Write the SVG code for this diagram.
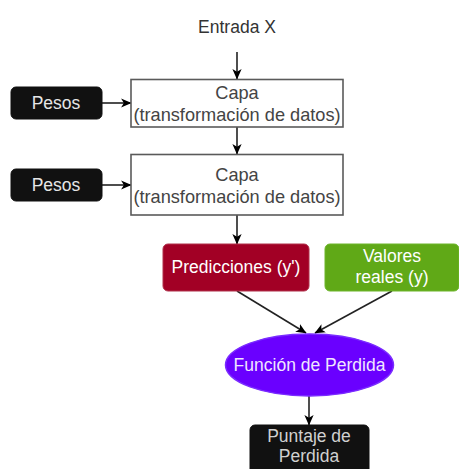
<svg xmlns="http://www.w3.org/2000/svg" width="459" height="469" viewBox="0 0 459 469">
<defs>
<marker id="arr" markerWidth="11" markerHeight="11" viewBox="0 0 10 10" refX="9" refY="5" orient="auto" markerUnits="userSpaceOnUse">
<path d="M0,0.8 L9.5,5 L0,9.2 L2.5,5 z" fill="#000"/>
</marker>
<style>
text{font-family:"Liberation Sans",Arial,sans-serif;font-size:17.5px;text-anchor:middle}
.edge{stroke:#222;stroke-width:1.6;fill:none;marker-end:url(#arr)}
.layer{fill:#fff;stroke:#5a5a5a;stroke-width:1.6}
.lt{fill:#444;font-size:18.2px}
.dark{fill:#111;stroke:#111}
.dt{fill:#e6e6e6}
.wt{fill:#fff}
</style>
</defs>
<rect width="459" height="469" fill="#fff"/>
<g id="connectors">
<line class="edge" x1="237" y1="52" x2="237" y2="79"/>
<line class="edge" x1="102" y1="103" x2="131" y2="103"/>
<line class="edge" x1="237" y1="127" x2="237" y2="154"/>
<line class="edge" x1="102" y1="185" x2="131" y2="185"/>
<line class="edge" x1="237" y1="215" x2="237" y2="244"/>
<line class="edge" x1="237" y1="291" x2="306" y2="333"/>
<line class="edge" x1="392" y1="291" x2="315" y2="333"/>
<line class="edge" x1="309" y1="396" x2="309" y2="425"/>
</g>
<g id="entrada">
<text x="237" y="33" style="fill:#333">Entrada X</text>
</g>
<g id="capa1">
<rect class="layer" x="131" y="79.5" width="212" height="47.5"/>
<text class="lt" x="237" y="99">Capa</text>
<text class="lt" x="237" y="121">(transformación de datos)</text>
</g>
<g id="pesos1">
<rect class="dark" x="11" y="87" width="91" height="32" rx="5"/>
<text class="dt" x="56" y="109">Pesos</text>
</g>
<g id="capa2">
<rect class="layer" x="131" y="154.5" width="212" height="60.5"/>
<text class="lt" x="237" y="181">Capa</text>
<text class="lt" x="237" y="203">(transformación de datos)</text>
</g>
<g id="pesos2">
<rect class="dark" x="11" y="169" width="91" height="32" rx="5"/>
<text class="dt" x="56" y="191">Pesos</text>
</g>
<g id="predicciones">
<rect x="163" y="244" width="146" height="47" rx="5" fill="#a20025" stroke="#b0304a" stroke-width="1"/>
<text class="wt" x="236" y="273">Predicciones (y')</text>
</g>
<g id="valores">
<rect x="325" y="244" width="134" height="47" rx="5" fill="#60a917" stroke="#6cb52a" stroke-width="1"/>
<text class="wt" x="392" y="262">Valores</text>
<text class="wt" x="392" y="283">reales (y)</text>
</g>
<g id="funcion">
<ellipse cx="309.5" cy="365" rx="84" ry="31" fill="#6a00ff" stroke="#7a2cff" stroke-width="1.5"/>
<text x="309.5" y="371" style="fill:#f0e6ff">Función de Perdida</text>
</g>
<g id="puntaje">
<rect class="dark" x="250" y="425" width="119" height="52" rx="5"/>
<text x="309" y="442" style="fill:#d0d0d0">Puntaje de</text>
<text x="309" y="462" style="fill:#d0d0d0">Perdida</text>
</g>
</svg>
